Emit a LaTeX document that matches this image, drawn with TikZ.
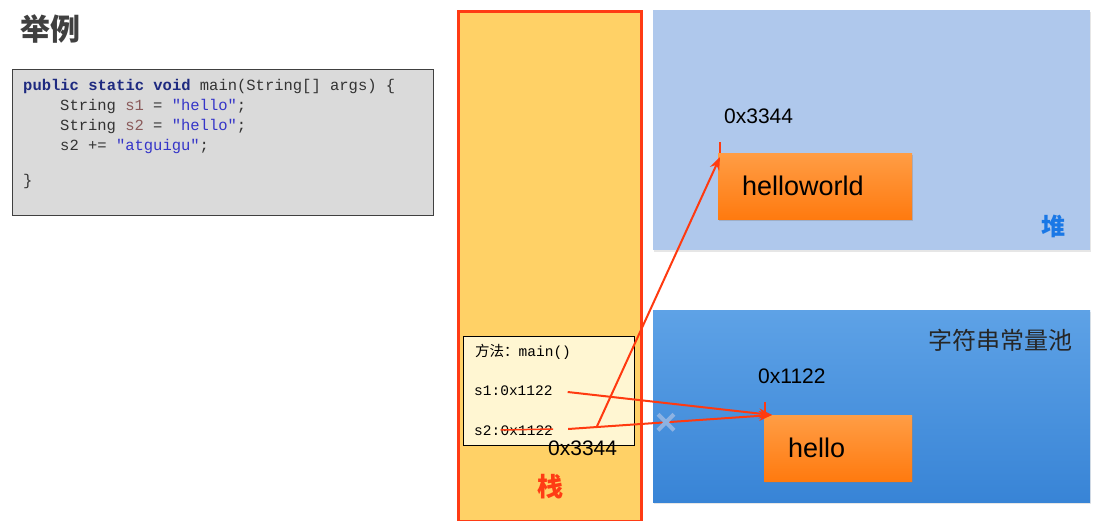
\documentclass[tikz,border=0pt]{standalone}
\usepackage{fontspec}
\setmainfont{Liberation Sans}
\setmonofont{Liberation Mono}
\newfontfamily\cjk{Noto Sans CJK SC}
\usetikzlibrary{arrows}
\usetikzlibrary{arrows.meta}
\usetikzlibrary{positioning}
\usetikzlibrary{shadows}
\usetikzlibrary{shapes.misc}
\usetikzlibrary{calc}
\definecolor{stackfill}{HTML}{FFD166}
\definecolor{stackred}{HTML}{FF3B14}
\definecolor{heapfill}{HTML}{AFC8EC}
\definecolor{pooltop}{HTML}{5EA2E6}
\definecolor{poolbot}{HTML}{3884D6}
\definecolor{objtop}{HTML}{FF9D45}
\definecolor{objbot}{HTML}{FF7A0F}
\definecolor{framefill}{HTML}{FFF6D2}
\definecolor{codefill}{HTML}{DADADA}
\definecolor{kwblue}{HTML}{1E2A80}
\definecolor{strblue}{HTML}{3535C8}
\definecolor{varbrown}{HTML}{8A5A5A}
\definecolor{arrred}{HTML}{FF3A10}
\definecolor{crossblue}{HTML}{8DB2E2}
\definecolor{heapblue}{HTML}{1A78E6}
\tikzstyle{area}=[rectangle,anchor=north west,inner sep=0pt]
\tikzstyle{obj}=[rectangle,anchor=north west,inner sep=0pt,top color=objtop,bottom color=objbot,drop shadow={opacity=0.35,shadow xshift=1pt,shadow yshift=-2pt},font=\fontsize{27}{30}\selectfont,align=left,minimum height=66pt,inner xsep=24pt]
\tikzstyle{code}=[anchor=base west,inner sep=0pt,font=\ttfamily\fontsize{15.5}{18}\selectfont,text=black!80]
\tikzstyle{addr}=[anchor=base west,inner sep=0pt,font=\fontsize{21}{24}\selectfont]
\tikzstyle{slot}=[anchor=base west,inner sep=0pt,font=\ttfamily\fontsize{14.5}{17}\selectfont]
\tikzstyle{arr}=[-{Stealth[length=13pt,width=10pt]},draw=arrred,fill=arrred,line width=2pt]
\tikzstyle{tick}=[draw=arrred,line width=1.2pt]

\begin{document}
\begin{tikzpicture}[x=1pt,y=-1pt]
        \useasboundingbox (0,0) rectangle (1094,521);
        % code
        \node[font=\cjk\bfseries\fontsize{30}{32}\selectfont,text=black!75] (title) at (50,29) {举例};
        \node[area,draw=black!75,fill=codefill,line width=1pt,minimum width=421pt,minimum height=146pt] (codebox) at (12,69) {};
        \node[code] (c1) at (23,91) {\textcolor{kwblue}{\textbf{public static void}} main(String[] args) \{};
        \node[code] (c2) at (60,111) {String \textcolor{varbrown}{s1} = \textcolor{strblue}{"hello"};};
        \node[code] (c3) at (60,131) {String \textcolor{varbrown}{s2} = \textcolor{strblue}{"hello"};};
        \node[code] (c4) at (60,151) {s2 += \textcolor{strblue}{"atguigu"};};
        \node[code] (c5) at (23,186) {\}};
        % stack
        \node[area,draw=stackred,fill=stackfill,line width=3pt,minimum width=183pt,minimum height=510pt] (stack) at (457,10) {};
        \node[font=\cjk\bfseries\fontsize{26}{28}\selectfont,text=stackred] (stacklbl) at (550,487) {栈};
        \node[area,draw=black,fill=framefill,line width=0.8pt,minimum width=171pt,minimum height=109pt] (frame) at (463,336) {};
        \node[slot] (method) at (475,356) {{\cjk 方法：}main()};
        \node[slot] (s1) at (474,395) {s1:0x1122};
        \node[slot] (s2) at (474,435) {s2:};
        \node[slot] (oldval) at (s2.base east) {0x1122};
        \draw[arrred,line width=1.5pt] ([yshift=5pt]oldval.base west) -- ([yshift=6pt]oldval.base east);
        \node[addr] (newval) at (548,455) {0x3344};
        % heap
        \node[area,fill=heapfill,minimum width=437pt,minimum height=240pt,drop shadow={opacity=0.2,shadow xshift=1pt,shadow yshift=-2pt}] (heap) at (653,10) {};
        \node[font=\cjk\bfseries\fontsize{24}{26}\selectfont,text=heapblue] (heaplbl) at (1053,226) {堆};
        \node[obj,text width=146pt] (hw) at (718,153) {helloworld};
        \node[addr] (hwaddr) at (724,124) {0x3344};
        \draw[tick] ([xshift=2pt]hw.north west) -- ++(0,-11);
        % string pool
        \node[area,top color=pooltop,bottom color=poolbot,minimum width=437pt,minimum height=192pt,drop shadow={opacity=0.2,shadow xshift=1pt,shadow yshift=-2pt}] (pool) at (653,310) {};
        \node[font=\cjk\fontsize{24}{26}\selectfont,text=black!85] (poollbl) at (1000,340) {字符串常量池};
        \node[obj,text width=100pt] (hello) at (764,415) {hello};
        \node[addr] (helloaddr) at (758,383) {0x1122};
        \draw[tick] ([xshift=1pt]hello.north west) -- ++(0,-13);
        % references
        \coordinate (s1out) at ([xshift=15pt,yshift=3pt]s1.base east);
        \coordinate (s2out) at ([xshift=15pt,yshift=6pt]oldval.base east);
        \coordinate (hin) at ([xshift=8pt]hello.north west);
        \coordinate (hwin) at ([xshift=2pt,yshift=-4pt]hw.north west);
        \coordinate (branch) at ($(s2out)!0.14!(hin)$);
        \draw[arr] (s1out) -- (hin);
        \draw[arr] (s2out) -- (hin);
        \draw[arr] (branch) -- (hwin);
        \node[cross out,draw=crossblue,line width=4pt,minimum size=12pt,inner sep=0pt] (cross) at ($(s2out)!0.48!(hin)$) {};
      \end{tikzpicture}
\end{document}
